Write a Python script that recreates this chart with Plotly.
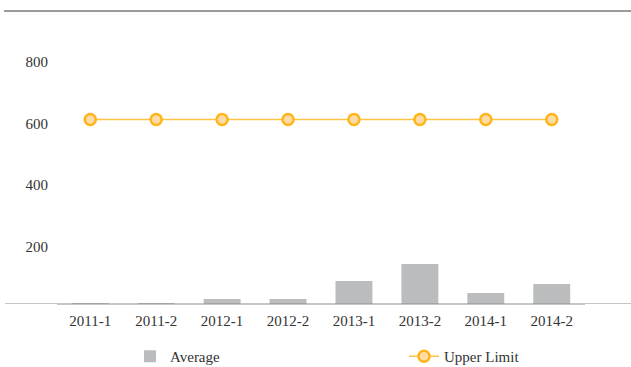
import plotly.graph_objects as go

# Half-year periods and values
periods = ["2011-1", "2011-2", "2012-1", "2012-2", "2013-1", "2013-2", "2014-1", "2014-2"]
average = [3, 3, 16, 16, 75, 130, 36, 65]
upper_limit = [600, 600, 600, 600, 600, 600, 600, 600]
y_ticks = [200, 400, 600, 800]

FONT = "Liberation Serif"
W, H = 631, 367
ML, MR, MT, MB = 57, 46, 11, 63
plot_w = W - ML - MR
plot_h = H - MT - MB

fig = go.Figure()

fig.add_trace(go.Bar(
    x=periods, y=average, name="Average", legend="legend",
    marker=dict(color="#BBBCBE", line=dict(width=0)),
))

fig.add_trace(go.Scatter(
    x=periods, y=upper_limit, name="Upper Limit", legend="legend2",
    mode="lines+markers",
    line=dict(color="#FFC444", width=1.5),
    marker=dict(size=11, color="#FFDCA6", line=dict(color="#FFB51A", width=2.5)),
))

# full-width rules at the top and along the baseline
ext0 = -ML / plot_w
ext1 = 1 + MR / plot_w
fig.add_shape(type="line", xref="paper", yref="paper", x0=ext0 + 4 / plot_w, x1=ext1, y0=1, y1=1,
              line=dict(color="#9A9A9A", width=2), layer="above")
fig.add_shape(type="line", xref="paper", yref="y", x0=ext0 + 5 / plot_w, x1=ext1, y0=0, y1=0,
              line=dict(color="#8C8C8C", width=1.2), layer="above")

tick_font = dict(family=FONT, size=15, color="#333333")
legend_font = dict(family=FONT, size=15, color="#333333")
legend_y = -36 / plot_h

fig.update_layout(
    width=W, height=H,
    margin=dict(l=ML, r=MR, t=MT, b=MB, pad=0, autoexpand=False),
    paper_bgcolor="white", plot_bgcolor="white",
    font=dict(family=FONT, size=15, color="#333333"),
    bargap=0.44,
    showlegend=True,
    legend=dict(
        orientation="h", x=(130 - ML) / plot_w, xanchor="left",
        y=legend_y, yanchor="top", font=legend_font, bgcolor="rgba(0,0,0,0)",
    ),
    legend2=dict(
        orientation="h", x=(404 - ML) / plot_w, xanchor="left",
        y=legend_y, yanchor="top", font=legend_font, bgcolor="rgba(0,0,0,0)",
    ),
    xaxis=dict(
        type="category",
        showgrid=False, zeroline=False, showline=True, linecolor="#C6C6C6", linewidth=1,
        ticks="", ticklabelstandoff=3, tickfont=tick_font,
    ),
    yaxis=dict(
        range=[0, 953], showgrid=False, zeroline=False, showline=False,
        tickvals=y_ticks, ticks="", ticklabelstandoff=8, ticklabelshift=4,
        tickfont=tick_font,
    ),
)

fig.write_html("out.html")
